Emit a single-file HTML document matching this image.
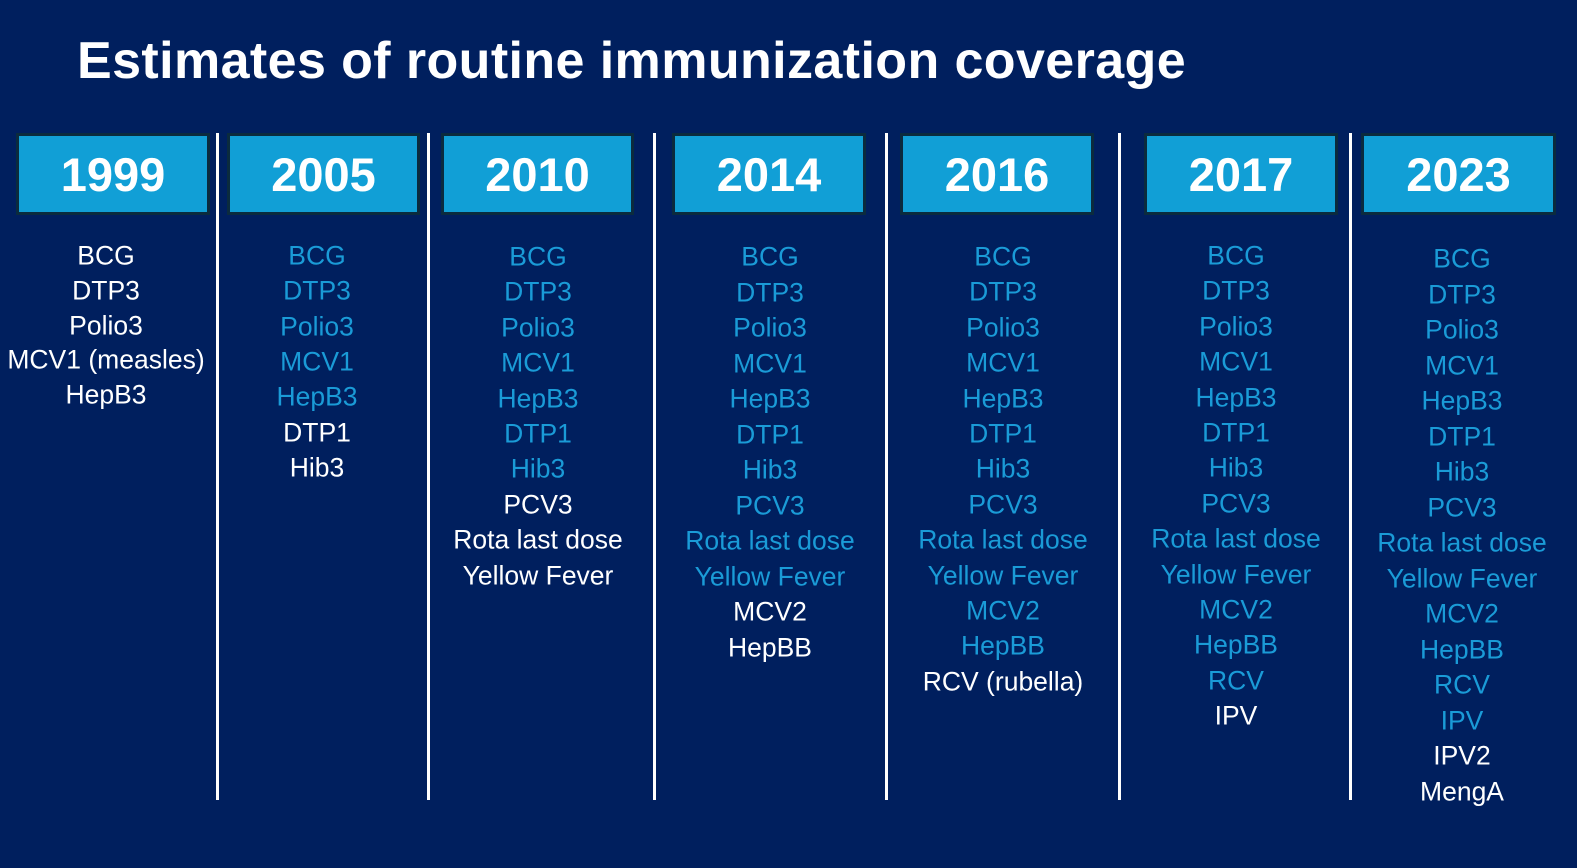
<!DOCTYPE html>
<html><head><meta charset="utf-8">
<style>
body{margin:0;width:1577px;height:868px;background:#001F5E;overflow:hidden;font-family:"Liberation Sans",sans-serif;position:relative}
#title{position:absolute;left:77px;top:31px;font-size:52px;letter-spacing:0.4px;font-weight:bold;color:#fff;white-space:nowrap}
.box{position:absolute;top:133px;height:76px;background:#119FD6;border:3px solid #0B2B3E;color:#fff;font-weight:bold;font-size:47px;display:flex;align-items:center;justify-content:center}
.div{position:absolute;top:133px;width:3px;height:667px;background:#fff}
.it{position:absolute;font-size:26.5px;white-space:nowrap;transform:translate(-50%,-50%)}
</style></head><body>
<div id="title">Estimates of routine immunization coverage</div>
<script>
const years=["1999","2005","2010","2014","2016","2017","2023"];
const boxL=[16,227,441,672,900,1144,1361];
const boxW=[194,193,193,194,194,194,195];
const textCx=[106,317,538,770,1003,1236,1462];
const divX=[216,427,653,885,1118,1349];
const startY=[256,256,257,257,257,256,259];
const steps=[34.75,35.3,35.4,35.5,35.4,35.4,35.5];
const all=["BCG","DTP3","Polio3","MCV1","HepB3","DTP1","Hib3","PCV3","Rota last dose","Yellow Fever","MCV2","HepBB","RCV","IPV","IPV2","MengA"];
const counts=[5,7,10,12,13,14,16];
const prev=[0,5,7,10,12,13,14];
const special={"0-3":"MCV1 (measles)","4-12":"RCV (rubella)"};
years.forEach((y,i)=>{
  const b=document.createElement('div');b.className='box';
  
  
  b.style.left=boxL[i]+'px';b.style.width=(boxW[i]-6)+'px';b.textContent=y;
  document.body.appendChild(b);
  const cx=textCx[i];
  for(let k=0;k<counts[i];k++){
    const t=document.createElement('div');t.className='it';
    
    
    t.textContent=special[i+'-'+k]||all[k];
    t.style.left=cx+'px';t.style.top=(startY[i]+k*steps[i])+'px';
    t.style.color=k>=prev[i]?'#ffffff':'#1A9BD7';
    document.body.appendChild(t);
  }
});
divX.forEach((x,i)=>{
  const d=document.createElement('div');d.className='div';
  
  
  d.style.left=x+'px';document.body.appendChild(d);
});
</script>
</body></html>
